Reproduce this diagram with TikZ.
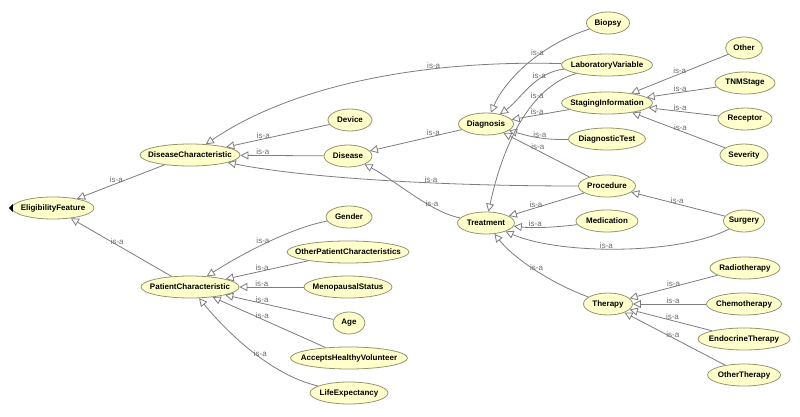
\documentclass[tikz,border=0pt]{standalone}
\usepackage{fontspec}
\newfontfamily\ontofont{Liberation Sans}
\usepackage{tikz}
\usetikzlibrary{shapes.geometric,arrows.meta}
\definecolor{clsfill}{RGB}{255,255,204}
\definecolor{clsline}{RGB}{150,150,110}
\definecolor{isaline}{RGB}{125,125,125}
\definecolor{isatext}{RGB}{110,110,110}

\begin{document}
\begin{tikzpicture}[
  x=0.75pt, y=-0.75pt,
  cls/.style={ellipse, draw=clsline, fill=clsfill, line width=0.6pt,
    inner xsep=-40pt, inner ysep=0pt, minimum height=16.5pt,
    minimum width=#1*0.75pt,
    font=\ontofont\bfseries\fontsize{6}{7}\selectfont},
  isa/.style={draw=isaline, line width=0.6pt,
    -{Triangle[open, length=6pt, width=6pt]}},
  lbl/.style={font=\ontofont\fontsize{6}{7}\selectfont, text=isatext,
    anchor=base, inner sep=0pt, yshift=0.5pt},
]
\path[fill=white] (0,0) rectangle (800,417);

% classes
\node[cls=82]  (ef)    at (53,208)  {EligibilityFeature};
\node[cls=100] (dc)    at (190,155) {DiseaseCharacteristic};
\node[cls=98]  (pc)    at (190,287) {PatientCharacteristic};
\node[cls=44]  (dev)   at (350,120) {Device};
\node[cls=48]  (dis)   at (348,156) {Disease};
\node[cls=55]  (diag)  at (486,124) {Diagnosis};
\node[cls=57]  (treat) at (486,223) {Treatment};
\node[cls=43]  (bio)   at (608,23)  {Biopsy};
\node[cls=91]  (lab)   at (607,65)  {LaboratoryVariable};
\node[cls=91]  (stag)  at (607,103) {StagingInformation};
\node[cls=77]  (dtest) at (607,139) {DiagnosticTest};
\node[cls=57]  (proc)  at (607,186) {Procedure};
\node[cls=62]  (med)   at (607,221) {Medication};
\node[cls=41]  (surg)  at (744,221) {Surgery};
\node[cls=37]  (oth)   at (744,48)  {Other};
\node[cls=60]  (tnm)   at (745,83)  {TNMStage};
\node[cls=54]  (rec)   at (745,119) {Receptor};
\node[cls=48]  (sev)   at (744,155) {Severity};
\node[cls=49]  (ther)  at (608,304) {Therapy};
\node[cls=70]  (radio) at (745,268) {Radiotherapy};
\node[cls=75]  (chemo) at (744,304) {Chemotherapy};
\node[cls=92]  (endo)  at (744,339) {EndocrineTherapy};
\node[cls=73]  (othth) at (744,375) {OtherTherapy};
\node[cls=46]  (gen)   at (349,217) {Gender};
\node[cls=122] (opc)   at (348,252) {OtherPatientCharacteristics};
\node[cls=88]  (meno)  at (348,287) {MenopausalStatus};
\node[cls=32]  (age)   at (349,323) {Age};
\node[cls=117] (ahv)   at (349,358) {AcceptsHealthyVolunteer};
\node[cls=78]  (life)  at (349,393) {LifeExpectancy};

% expander mark
\fill[black] ([xshift=1pt]ef.west) -- ++(-4,0) -- ++(4,-4) -- cycle;
\fill[black] ([xshift=1pt]ef.west) -- ++(-4,0) -- ++(4,4) -- cycle;

% is-a links
\draw[isa] (dc) -- node[lbl,pos=.55]{is-a} (ef);
\draw[isa] (pc) -- node[lbl,pos=.54]{is-a} (ef);

\draw[isa] (dev) -- node[lbl,pos=.64]{is-a} (dc);
\draw[isa] (dis) -- node[lbl,pos=.73]{is-a} (dc);
\draw[isa] (lab) .. controls (440,60) and (300,80) .. (dc) node[lbl,pos=.34]{is-a};
\draw[isa] (proc) .. controls (430,186) and (300,177) .. (dc) node[lbl,pos=.35]{is-a};

\draw[isa] (diag) -- node[lbl,pos=.31]{is-a} (dis);
\draw[isa] (treat) .. controls (430,212) and (395,180) .. (dis) node[lbl,pos=.3]{is-a};

\draw[isa] (bio) .. controls (540,45) and (505,80) .. (diag) node[lbl,pos=.4]{is-a};
\draw[isa] (lab) .. controls (535,72) and (520,100) .. (diag) node[lbl,pos=.33]{is-a};
\draw[isa] (stag) -- node[lbl,pos=.56]{is-a} (diag);
\draw[isa] (dtest) .. controls (540,140) and (525,135) .. (diag) node[lbl,pos=.4]{is-a};
\draw[isa] (proc) -- node[lbl,pos=.6]{is-a} (diag);

\draw[isa] (oth) -- node[lbl,pos=.5]{is-a} (stag);
\draw[isa] (tnm) -- node[lbl,pos=.52]{is-a} (stag);
\draw[isa] (rec) -- node[lbl,pos=.55]{is-a} (stag);
\draw[isa] (sev) -- node[lbl,pos=.48]{is-a} (stag);

\draw[isa] (lab) .. controls (535,85) and (505,135) .. (treat) node[lbl,pos=.35]{is-a};
\draw[isa] (proc) -- node[lbl,pos=.64]{is-a} (treat);
\draw[isa] (med) .. controls (550,228) and (530,228) .. (treat) node[lbl,pos=.6]{is-a};
\draw[isa] (surg) .. controls (680,255) and (560,255) .. (treat) node[lbl,pos=.55]{is-a};
\draw[isa] (ther) .. controls (555,285) and (515,260) .. (treat) node[lbl,pos=.5]{is-a};
\draw[isa] (surg) -- node[lbl,pos=.51]{is-a} (proc);

\draw[isa] (radio) -- node[lbl,pos=.5]{is-a} (ther);
\draw[isa] (chemo) -- node[lbl,pos=.45]{is-a} (ther);
\draw[isa] (endo) -- node[lbl,pos=.48]{is-a} (ther);
\draw[isa] (othth) -- node[lbl,pos=.52]{is-a} (ther);

\draw[isa] (gen) .. controls (290,228) and (240,255) .. (pc) node[lbl,pos=.52]{is-a};
\draw[isa] (opc) -- node[lbl,pos=.56]{is-a} (pc);
\draw[isa] (meno) -- node[lbl,pos=.65]{is-a} (pc);
\draw[isa] (age) -- node[lbl,pos=.66]{is-a} (pc);
\draw[isa] (ahv) -- node[lbl,pos=.56]{is-a} (pc);
\draw[isa] (life) .. controls (270,375) and (225,330) .. (pc) node[lbl,pos=.42]{is-a};
\end{tikzpicture}
\end{document}
